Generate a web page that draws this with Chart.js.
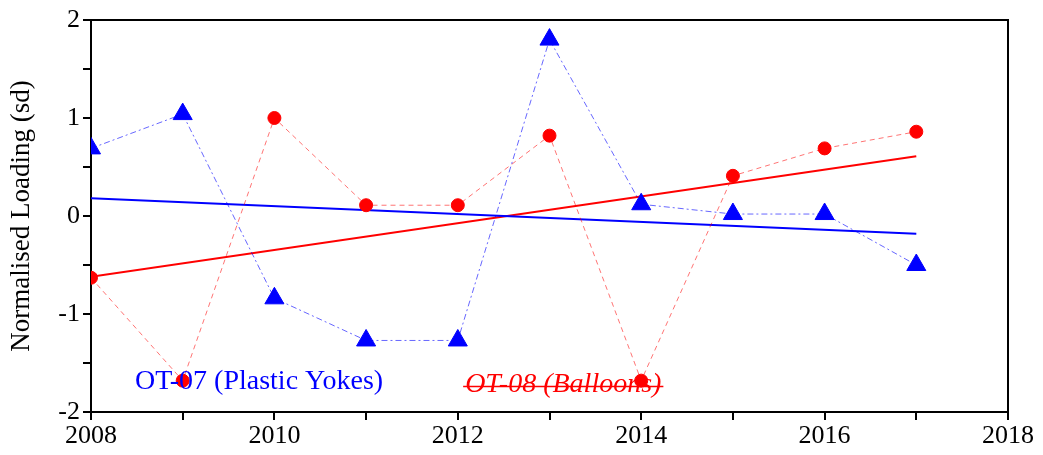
<!DOCTYPE html>
<html><head><meta charset="utf-8">
<script src="https://cdn.jsdelivr.net/npm/chart.js@4.4.1/dist/chart.umd.min.js"></script>
<style>html,body{margin:0;padding:0;background:#fff}#w{width:1043px;height:455px;position:relative}</style>
</head><body><div id="w"><canvas id="c"></canvas></div>
<script>
const years = [2008,2009,2010,2011,2012,2013,2014,2015,2016,2017];
const plasticYokes = [0.69,1.04,-0.84,-1.27,-1.27,1.80,0.12,0.02,0.02,-0.50];
const balloons = [-0.63,-1.68,1.00,0.11,0.11,0.82,-1.68,0.41,0.69,0.86];
const trendYears = [2008,2017];
const plasticTrend = [0.18,-0.18];
const balloonTrend = [-0.62,0.61];
const seriesLabels = ['OT-07 (Plastic Yokes)','OT-08 (Balloons)'];
const yTitle = 'Normalised Loading (sd)';
const xRange = [2008,2018];
const yRange = [-2,2];

const pts = (xs, ys) => xs.map((x,i)=>({x:x,y:ys[i]}));
const FONT = 'Liberation Serif';

const framePlugin = {
  id:'frame',
  afterDraw(chart){
    const {ctx, chartArea:a} = chart;
    ctx.save();
    ctx.strokeStyle='#000'; ctx.lineWidth=2;
    ctx.beginPath();
    ctx.moveTo(a.left,a.top); ctx.lineTo(a.right,a.top); ctx.lineTo(a.right,a.bottom);
    ctx.stroke();
    const xs=chart.scales.x, ys=chart.scales.y;
    ctx.font='28px "'+FONT+'"';
    ctx.textBaseline='middle';
    ctx.fillStyle='#0000ff';
    ctx.fillText(seriesLabels[0], xs.getPixelForValue(2008.48), ys.getPixelForValue(-1.69));
    ctx.font='italic 28px "'+FONT+'"';
    ctx.fillStyle='#ff0000';
    const x2=xs.getPixelForValue(2012.08), y2=ys.getPixelForValue(-1.72);
    ctx.fillText(seriesLabels[1], x2, y2);
    const w=ctx.measureText(seriesLabels[1]).width;
    ctx.strokeStyle='#ff0000'; ctx.lineWidth=1.5;
    ctx.beginPath(); ctx.moveTo(x2-2,y2+2); ctx.lineTo(x2+w+2,y2+2); ctx.stroke();
    ctx.restore();
  }
};

new Chart(document.getElementById('c'),{
  type:'scatter',
  data:{datasets:[
    {data:pts(trendYears,plasticTrend),showLine:true,borderColor:'#0000ff',borderWidth:2,pointRadius:0,order:3},
    {data:pts(trendYears,balloonTrend),showLine:true,borderColor:'#ff0000',borderWidth:2,pointRadius:0,order:3},
    {data:pts(years,balloons),showLine:true,borderColor:'rgba(255,0,0,0.55)',borderWidth:1,borderDash:[5,4],
      pointStyle:'circle',pointRadius:6.5,pointBackgroundColor:'#ff0000',pointBorderColor:'#ff0000',order:2},
    {data:pts(years,plasticYokes),showLine:true,borderColor:'rgba(0,0,255,0.6)',borderWidth:1,borderDash:[6,3,2,3],
      pointStyle:'triangle',pointRadius:11,pointBackgroundColor:'#0000ff',pointBorderColor:'#0000ff',order:1}
  ]},
  options:{
    responsive:true,maintainAspectRatio:false,animation:false,
    layout:{padding:{top:20,right:35,left:0,bottom:0}},
    plugins:{legend:{display:false},tooltip:{enabled:false}},
    scales:{
      x:{type:'linear',min:xRange[0],max:xRange[1],
        afterFit(s){s.height=43;},
        border:{color:'#000',width:2},
        grid:{drawOnChartArea:false,tickLength:8,color:'#000',lineWidth:2},
        ticks:{stepSize:1,autoSkip:false,maxRotation:0,color:'#000',padding:1,font:{family:FONT,size:26},
          callback:v=> (v%2===0? String(v):'')}
      },
      y:{min:yRange[0],max:yRange[1],
        afterFit(s){s.width=91;},
        border:{color:'#000',width:2},
        grid:{drawOnChartArea:false,tickLength:8,color:'#000',lineWidth:2},
        title:{display:true,text:yTitle,color:'#000',font:{family:FONT,size:27},padding:{top:6,bottom:4}},
        ticks:{stepSize:0.5,autoSkip:false,color:'#000',padding:3,font:{family:FONT,size:26},
          callback:v=> (Number.isInteger(v)? String(v):'')}
      }
    }
  },
  plugins:[framePlugin]
});
</script></body></html>
